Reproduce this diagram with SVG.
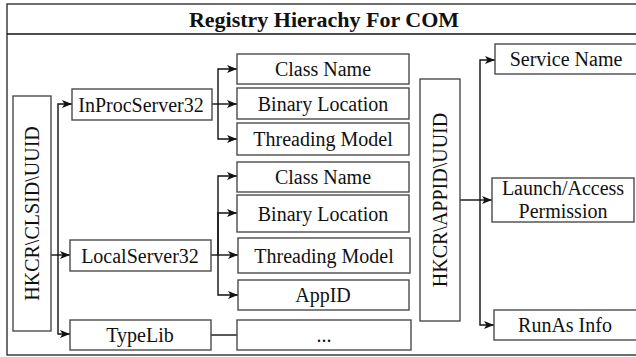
<svg xmlns="http://www.w3.org/2000/svg" width="636" height="357" viewBox="0 0 636 357">
<defs>
<style>
.box{fill:#fff;stroke:#4a4a4a;stroke-width:1.4}
.t{font-family:"Liberation Serif","Times New Roman",serif;font-size:20px;fill:#111;text-anchor:middle}
.title{font-family:"Liberation Serif","Times New Roman",serif;font-size:22px;font-weight:bold;fill:#111;text-anchor:middle}
.c{fill:none;stroke:#111;stroke-width:1.4}
.a{marker-end:url(#ah)}
</style>
<marker id="ah" viewBox="0 0 10 8" refX="10" refY="4" markerWidth="10" markerHeight="8" markerUnits="userSpaceOnUse" orient="auto">
<path d="M0,0 L10,4 L0,8 L2.5,4 Z" fill="#111"/>
</marker>
</defs>
<rect width="636" height="357" fill="#fff"/>
<g id="frame">
<rect x="7" y="4" width="634" height="351" fill="none" stroke="#333" stroke-width="1.4"/>
<line x1="7" y1="34" x2="641" y2="34" stroke="#111" stroke-width="1.4"/>
<text class="title" x="324" y="27">Registry Hierachy For COM</text>
</g>
<g id="connectors">
<path class="c a" d="M51,255 H70"/>
<path class="c a" d="M58,255 V104 H72"/>
<path class="c a" d="M58,255 V334 H70"/>
<path class="c a" d="M212,104 H237"/>
<path class="c a" d="M218,104 V69 H237"/>
<path class="c a" d="M218,104 V139 H237"/>
<path class="c a" d="M211,255 H238"/>
<path class="c a" d="M218,255 V176 H237"/>
<path class="c a" d="M218,255 V213 H237"/>
<path class="c a" d="M218,255 V295 H238"/>
<path class="c" d="M211,335 H237"/>
<path class="c a" d="M460,200 H492"/>
<path class="c a" d="M480,200 V60 H495"/>
<path class="c a" d="M480,200 V325 H494"/>
</g>
<g id="clsid">
<rect class="box" x="13" y="96" width="38" height="235"/>
<text class="t" transform="translate(39,213.5) rotate(-90)">HKCR\CLSID\UUID</text>
</g>
<g id="inproc">
<rect class="box" x="72" y="89" width="140" height="31"/>
<text class="t" x="141" y="111.5">InProcServer32</text>
</g>
<g id="local">
<rect class="box" x="70" y="240" width="141" height="31"/>
<text class="t" x="140" y="262.5">LocalServer32</text>
</g>
<g id="typelib">
<rect class="box" x="70" y="320" width="141" height="30"/>
<text class="t" x="140" y="342">TypeLib</text>
</g>
<g id="classname1">
<rect class="box" x="237" y="54" width="172" height="30"/>
<text class="t" x="323" y="76">Class Name</text>
</g>
<g id="binary1">
<rect class="box" x="237" y="88" width="172" height="31"/>
<text class="t" x="323" y="110.5">Binary Location</text>
</g>
<g id="threading1">
<rect class="box" x="237" y="123" width="172" height="32"/>
<text class="t" x="323" y="146">Threading Model</text>
</g>
<g id="classname2">
<rect class="box" x="237" y="162" width="172" height="30"/>
<text class="t" x="323" y="184">Class Name</text>
</g>
<g id="binary2">
<rect class="box" x="237" y="195" width="172" height="37"/>
<text class="t" x="323" y="220.5">Binary Location</text>
</g>
<g id="threading2">
<rect class="box" x="238" y="238" width="172" height="35"/>
<text class="t" x="324" y="262.5">Threading Model</text>
</g>
<g id="appid">
<rect class="box" x="238" y="280" width="171" height="30"/>
<text class="t" x="323" y="302">AppID</text>
</g>
<g id="ellipsis">
<rect class="box" x="237" y="320" width="174" height="30"/>
<text class="t" x="324" y="342">...</text>
</g>
<g id="appiduuid">
<rect class="box" x="420" y="79" width="40" height="242"/>
<text class="t" transform="translate(447,200) rotate(-90)">HKCR\APPID\UUID</text>
</g>
<g id="servicename">
<rect class="box" x="495" y="44" width="143" height="30"/>
<text class="t" x="566" y="66">Service Name</text>
</g>
<g id="launch">
<rect class="box" x="492" y="178" width="142" height="44"/>
<text class="t" x="563" y="195">Launch/Access</text>
<text class="t" x="563" y="218">Permission</text>
</g>
<g id="runas">
<rect class="box" x="494" y="310" width="143" height="30"/>
<text class="t" x="565" y="332">RunAs Info</text>
</g>
</svg>
